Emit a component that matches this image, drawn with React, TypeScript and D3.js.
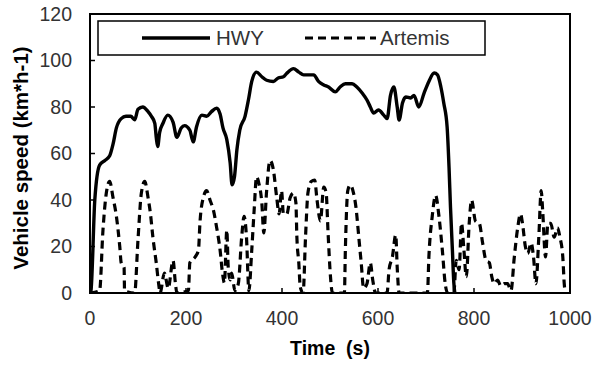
import React from "react";
import * as d3 from "d3";

const xTicks = [0, 200, 400, 600, 800, 1000];
const yTicks = [0, 20, 40, 60, 80, 100, 120];
const seriesNames = ["HWY", "Artemis"];

const hwyPoints: [number, number][] = [
  [0, 0], [2, 1], [10, 40], [20, 55], [31, 57], [41, 59], [48, 64], [55, 71], [65, 75], [75, 76],
  [85, 76], [93, 74.5], [100, 79], [110, 80], [121, 78], [128, 76], [135, 73], [138, 67], [141, 63],
  [145, 69], [152, 73], [162, 76.5], [173, 73.5], [181, 67], [190, 71], [197, 72], [208, 70], [215, 65],
  [222, 71.5], [233, 76.5], [243, 76], [253, 78], [264, 79.5], [271, 77], [277, 71], [285, 66], [292, 56],
  [296, 46.5], [301, 50], [306, 61.5], [312, 70], [323, 76], [330, 83], [337, 91], [347, 95], [358, 93],
  [368, 91.5], [382, 91], [392, 92.5], [403, 93], [410, 94.5], [424, 96.5], [435, 95], [445, 93.8],
  [456, 93.8], [466, 93.8], [476, 91], [487, 89.5], [497, 88.6], [511, 86.5], [521, 88.6], [532, 90],
  [546, 90], [556, 88.6], [567, 86], [577, 83], [584, 80], [591, 77.4], [601, 78.7], [612, 76.5],
  [619, 75], [626, 85], [633, 88.6], [640, 80], [644, 74.4], [651, 81.7], [658, 84.3], [668, 83.9],
  [675, 85], [685, 80], [696, 86], [706, 91], [717, 94.6], [724, 93.8], [731, 88.6], [737, 81.7],
  [744, 71.4], [748, 54], [751, 37], [755, 18.5], [758, 4.3], [760, 0],
];

const artemisPoints: [number, number][] = [
  [0, 0], [20, 1], [27, 27], [34, 43], [41, 48], [48, 41], [55, 33], [62, 20], [65, 13], [71, 11], [72, 1],
  [93, 0], [100, 23], [107, 43], [114, 48], [121, 41], [126, 34], [131, 24], [138, 13], [143, 4], [146, 0],
  [155, 8.6], [163, 2], [173, 14], [178, 4], [181, 0], [205, 1], [208, 13], [219, 15.5], [226, 18.5],
  [229, 30], [236, 41], [243, 44], [250, 40], [257, 35.7], [264, 28], [271, 18.5], [276, 8.6], [280, 4.3],
  [285, 27], [288, 11], [292, 5.6], [295, 8.6], [302, 1], [309, 4], [316, 24], [321, 33], [326, 24],
  [331, 1], [337, 18.5], [342, 35.7], [347, 50], [352, 47], [358, 38.7], [362, 25.8], [368, 44], [375, 57],
  [382, 53], [389, 41], [394, 34], [399, 44], [403, 34], [410, 34], [417, 41], [424, 43], [429, 38.7],
  [431, 24], [435, 13], [438, 2.6], [444, 0], [449, 24], [454, 43], [461, 48], [468, 48.6], [473, 40],
  [480, 31], [487, 45.6], [492, 43], [496, 25.8], [501, 7], [505, 0], [530, 0], [532, 18.5], [537, 44],
  [542, 46.5], [549, 43], [554, 37], [560, 24], [565, 13], [570, 2], [577, 4], [584, 13], [589, 5.6],
  [595, 0], [619, 0], [623, 10], [630, 15.5], [637, 25], [640, 11], [644, 0], [703, 0], [706, 15.5],
  [713, 33], [720, 42], [727, 33], [734, 18.5], [740, 4], [745, 0], [758, 0], [763, 14], [769, 10],
  [774, 30], [779, 18.5], [784, 7], [790, 30], [795, 40], [803, 31], [811, 30], [818, 21.5], [825, 14],
  [832, 13], [837, 7], [842, 4], [849, 5.6], [856, 3], [863, 4], [870, 4], [877, 1], [884, 15.5],
  [891, 28], [897, 34], [901, 30], [907, 20], [912, 17], [919, 21.5], [924, 15.5], [929, 4], [935, 24],
  [940, 44], [943, 35.7], [949, 15.5], [954, 30], [960, 30], [967, 24], [974, 28], [979, 24], [985, 15.5],
  [988, 4], [990, 0],
];

const W = 595;
const H = 366;
const left = 90;
const right = 570;
const top = 14;
const bottom = 293;
const FONT = "'Liberation Sans', Arial, sans-serif";
const TEXT = "#333";

export default function App() {
  const x = d3.scaleLinear().domain([0, 1000]).range([left, right]);
  const y = d3.scaleLinear().domain([0, 120]).range([bottom, top]);
  const line = d3
    .line<[number, number]>()
    .x((d) => x(d[0]))
    .y((d) => y(d[1]))
    .curve(d3.curveMonotoneX);

  return (
    <svg
      width={W}
      height={H}
      style={{ position: "absolute", left: 0, top: 0, background: "#fff" }}
      fontFamily={FONT}
    >
      <rect x={0} y={0} width={W} height={H} fill="#fff" />
      <defs>
        <clipPath id="plotclip">
          <rect x={left} y={top} width={right - left} height={bottom - top} />
        </clipPath>
      </defs>
      {yTicks.map((t) => (
        <g key={"y" + t}>
          <line x1={left} x2={left + 5} y1={y(t)} y2={y(t)} stroke="#000" strokeWidth={1.5} />
          <text x={72} y={y(t)} dy="0.35em" textAnchor="end" fontSize={19.5} fill={TEXT}>
            {t}
          </text>
        </g>
      ))}
      {xTicks.map((t) => (
        <g key={"x" + t}>
          <line x1={x(t)} x2={x(t)} y1={bottom} y2={bottom - 5} stroke="#000" strokeWidth={1.5} />
          <text x={x(t)} y={325} textAnchor="middle" fontSize={19.5} fill={TEXT}>
            {t}
          </text>
        </g>
      ))}
      <g clipPath="url(#plotclip)">
        <path d={line(artemisPoints) || ""} fill="none" stroke="#000" strokeWidth={3.2} strokeDasharray="8,5" />
        <path d={line(hwyPoints) || ""} fill="none" stroke="#000" strokeWidth={3.4} strokeLinejoin="round" />
      </g>
      <rect x={left} y={top} width={right - left} height={bottom - top} fill="none" stroke="#000" strokeWidth={2} />
      <rect x={98} y={21} width={387} height={34} fill="#fff" stroke="#000" strokeWidth={1.5} />
      <line x1={142} x2={210} y1={38} y2={38} stroke="#000" strokeWidth={3.4} />
      <text x={216} y={38} dy="0.35em" fontSize={20.5} fill={TEXT}>
        {seriesNames[0]}
      </text>
      <line x1={305} x2={376} y1={38} y2={38} stroke="#000" strokeWidth={3.2} strokeDasharray="8,5" />
      <text x={380} y={38} dy="0.35em" fontSize={20.5} fill={TEXT}>
        {seriesNames[1]}
      </text>
      <text x={330} y={355} textAnchor="middle" fontSize={19.5} fontWeight="bold" fill="#000" style={{ whiteSpace: "pre" }}>
        {"Time  (s)"}
      </text>
      <text
        transform={`translate(28,158) rotate(-90)`}
        textAnchor="middle"
        fontSize={20.5}
        fontWeight="bold"
        fill="#000"
      >
        Vehicle speed (km*h-1)
      </text>
    </svg>
  );
}
